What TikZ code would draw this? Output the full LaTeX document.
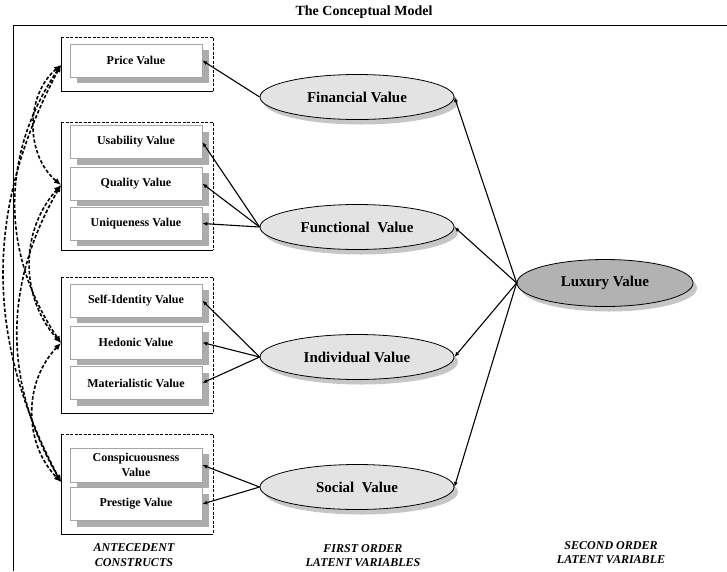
\documentclass[tikz,border=0pt]{standalone}
\usepackage{fontspec}
\setmainfont{Liberation Serif}
\usetikzlibrary{shapes.geometric,arrows.meta,shadows}
\begin{document}
\begin{tikzpicture}[x=1pt,y=1pt,
  itembox/.style={draw=gray!70,line width=0.6pt,fill=white,minimum width=132pt,minimum height=33pt,
    inner sep=1pt,align=center,font=\fontsize{12}{14}\selectfont\bfseries,
    drop shadow={shadow xshift=7pt,shadow yshift=-6pt,fill=gray!65,opacity=1}},
  latent/.style={ellipse,draw=black,line width=0.8pt,fill=gray!22,minimum width=194pt,minimum height=45pt,
    inner sep=0pt,font=\fontsize{15}{17}\selectfont\bfseries,
    drop shadow={shadow xshift=4pt,shadow yshift=-5pt,fill=gray!45,opacity=1}},
  groupbox/.style={draw=black,line width=0.8pt,dash pattern=on 3pt off 1.5pt},
  corr/.style={line width=1.6pt,dash pattern=on 3.5pt off 2pt,{Latex[length=7pt,width=6pt]}-{Latex[length=7pt,width=6pt]}},
  load/.style={line width=1.1pt,-{Latex[length=5pt,width=4pt]}},
  caption/.style={align=center,font=\fontsize{12}{14.5}\selectfont\bfseries\itshape}
]
\useasboundingbox (0,0) rectangle (727,-571);
\node[font=\fontsize{14}{16}\selectfont\bfseries] (title) at (364,-12) {The Conceptual Model};
\draw[line width=1pt] (13,-571) -- (13,-25) -- (727,-25);

% group frames
\draw[groupbox] (61,-37) -- (213,-37) -- (213,-91);
\draw[line width=0.8pt] (213,-91) -- (61,-91) -- (61,-37);
\draw[groupbox] (61,-122) -- (213,-122) -- (213,-250);
\draw[line width=0.8pt] (213,-250) -- (61,-250) -- (61,-122);
\draw[groupbox] (61,-277) -- (213,-277) -- (213,-413);
\draw[line width=0.8pt] (213,-413) -- (61,-413) -- (61,-277);
\draw[groupbox] (61,-434) -- (213,-434) -- (213,-534);
\draw[line width=0.8pt] (213,-534) -- (61,-534) -- (61,-434);

\coordinate (g1) at (61,-65);
\coordinate (g2) at (61,-185);
\coordinate (g3) at (61,-343);
\coordinate (g4) at (61,-482);

% antecedent boxes
\node[itembox] (price) at (136,-60.5) {Price Value};
\node[itembox] (usab) at (136,-142) {Usability Value};
\node[itembox] (qual) at (136,-183.5) {Quality Value};
\node[itembox] (uniq) at (136,-223.5) {Uniqueness Value};
\node[itembox] (self) at (136,-300.5) {Self-Identity Value};
\node[itembox] (hedo) at (136,-342.5) {Hedonic Value};
\node[itembox] (mate) at (136,-383) {Materialistic Value};
\node[itembox,minimum height=34pt,font=\fontsize{12}{15}\selectfont\bfseries] (consp) at (136,-465) {Conspicuousness\\Value};
\node[itembox] (prest) at (136,-504) {Prestige Value};

% first-order latent variables
\node[latent] (fin) at (357,-97) {Financial Value};
\node[latent] (fun) at (357,-227) {Functional\ \ Value};
\node[latent] (ind) at (357,-357) {Individual Value};
\node[latent] (soc) at (357,-487) {Social\ \ Value};

% second-order
\node[latent,fill=gray!60,minimum width=176pt,minimum height=47pt] (lux) at (605,-283) {Luxury Value};

% loadings
\draw[load] (fin.west) -- (price.east);
\draw[load] (fun.west) -- (usab.east);
\draw[load] (fun.west) -- (qual.east);
\draw[load] (fun.west) -- (uniq.east);
\draw[load] (ind.west) -- (self.east);
\draw[load] (ind.west) -- (hedo.east);
\draw[load] (ind.west) -- (mate.east);
\draw[load] (soc.west) -- (consp.east);
\draw[load] (soc.west) -- (prest.east);

\draw[load] (lux.west) -- (fin.east);
\draw[load] (lux.west) -- (fun.east);
\draw[load] (lux.west) -- (ind.east);
\draw[load] (lux.west) -- (soc.east);

% correlations
\draw[corr] (g1) to[bend right=50] (g2);
\draw[corr] (g1) to[bend right=34] (g3);
\draw[corr] (g1) to[bend right=28] (g4);
\draw[corr] (g2) to[bend right=42] (g3);
\draw[corr] (g2) to[bend right=30] (g4);
\draw[corr] (g3) to[bend right=44] (g4);

% captions
\node[caption] (cap1) at (134,-555) {ANTECEDENT\\CONSTRUCTS};
\node[caption] (cap2) at (363,-555.5) {FIRST ORDER\\LATENT VARIABLES};
\node[caption] (cap3) at (611,-552.5) {SECOND ORDER\\LATENT VARIABLE};
\end{tikzpicture}
\end{document}
